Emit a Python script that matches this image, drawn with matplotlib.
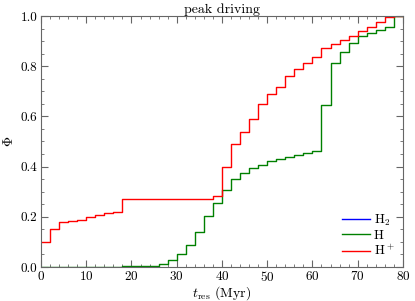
import numpy as np
import matplotlib
matplotlib.use('Agg')
import matplotlib.pyplot as plt
from matplotlib.ticker import MultipleLocator

plt.rcParams['font.family'] = 'cmr10'
plt.rcParams['mathtext.fontset'] = 'cm'
plt.rcParams['axes.formatter.use_mathtext'] = True

# bin edges in Myr (2 Myr bins)
bin_edges = np.arange(0, 82, 2)

# cumulative fraction per bin
phi_H2 = []
phi_H = [0, 0, 0, 0, 0, 0, 0, 0, 0,
         0.002, 0.003, 0.003, 0.005, 0.011, 0.027, 0.051, 0.088, 0.138, 0.202, 0.254,
         0.307, 0.349, 0.376, 0.395, 0.406, 0.422, 0.429, 0.437, 0.445, 0.453,
         0.463, 0.646, 0.811, 0.858, 0.892, 0.920, 0.932, 0.944, 0.957, 1.0]
phi_Hp = [0.10, 0.15, 0.178, 0.182, 0.188, 0.20, 0.207, 0.214, 0.221, 0.270,
          0.270, 0.270, 0.270, 0.270, 0.272, 0.272, 0.272, 0.272, 0.272, 0.281,
          0.397, 0.488, 0.538, 0.588, 0.649, 0.689, 0.717, 0.761, 0.789, 0.813,
          0.836, 0.871, 0.890, 0.906, 0.920, 0.939, 0.956, 0.977, 0.994, 1.0]

fig = plt.figure(figsize=(4.15, 3.01), dpi=100)
ax = fig.add_axes([0.0988, 0.113, 0.872, 0.834])

ax.plot([], [], color='blue', lw=1.0, label=r'H$_2$')
ax.step(bin_edges, np.append(phi_H, phi_H[-1]), where='post', color='green', lw=1.0, label='H')
ax.step(bin_edges, np.append(phi_Hp, phi_Hp[-1]), where='post', color='red', lw=1.0, label=r'H$^+$')

ax.set_xlim(0, 80)
ax.set_ylim(0, 1)
ax.xaxis.set_major_locator(MultipleLocator(10))
ax.xaxis.set_minor_locator(MultipleLocator(2))
ax.yaxis.set_major_locator(MultipleLocator(0.2))
ax.yaxis.set_minor_locator(MultipleLocator(0.05))
ax.yaxis.set_major_formatter(matplotlib.ticker.FormatStrFormatter('%.1f'))
ax.tick_params(which='both', direction='in', top=True, right=True, color='#666666', labelsize=9.5)
ax.tick_params(which='major', length=5)
ax.tick_params(which='minor', length=2.5)
ax.tick_params(axis='x', pad=2)
ax.tick_params(axis='y', pad=2.5)
for s in ax.spines.values():
    s.set_color('#666666')

ax.set_xlabel(r'$t_{\rm res}$ (Myr)', fontsize=10, labelpad=0)
ax.set_ylabel(r'$\Phi$', fontsize=10, labelpad=3)
ax.set_title('peak driving', fontsize=10, pad=1.5)

ax.legend(loc='lower right', frameon=False, fontsize=9.5, handlelength=2.1,
          handletextpad=0.3, labelspacing=0.15, borderaxespad=0.25)

fig.savefig('out.png', dpi=100)
